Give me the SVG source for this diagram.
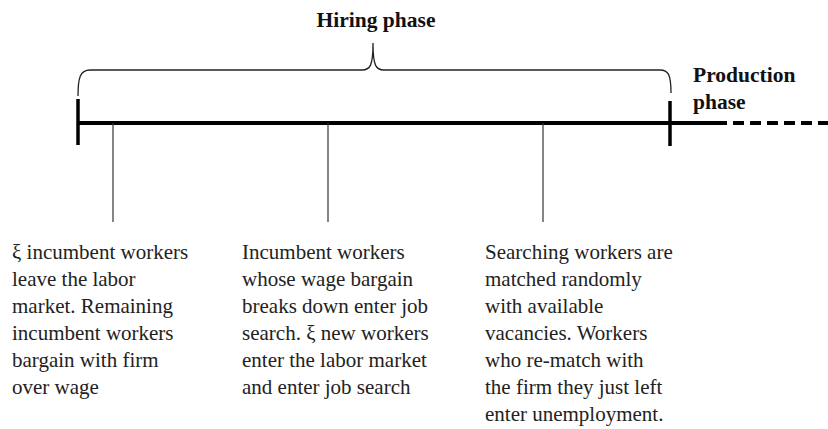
<svg xmlns="http://www.w3.org/2000/svg" width="828" height="429" viewBox="0 0 828 429">
  <style>
    .axis { stroke: #000; stroke-width: 4; fill: none; }
    .tick { stroke: #000; stroke-width: 3.5; fill: none; }
    .drop { stroke: #333; stroke-width: 1.2; fill: none; }
    .brace { stroke: #222; stroke-width: 1.3; fill: none; }
    .head { font-size: 21.5px; font-weight: bold; fill: #111; }
    .note { font-size: 21px; fill: #222; }
  </style>

  <!-- timeline axis and phase boundaries -->
  <g id="connectors">
    <line class="axis" x1="78" y1="123" x2="716" y2="123"/>
    <line class="axis" x1="716" y1="123" x2="828" y2="123" stroke-dasharray="11 6"/>
    <line class="drop" x1="113" y1="123" x2="113" y2="222"/>
    <line class="drop" x1="328" y1="123" x2="328" y2="222"/>
    <line class="drop" x1="543" y1="123" x2="543" y2="222"/>
    <!-- curly brace spanning the hiring phase -->
    <path class="brace" d="M78,96 C78,78 80,70 90,70 L362,70 C370,70 373,66 373,43 C373,66 376,70 384,70 L660,70 C668,70 671,74 671,93"/>
  </g>

  <g id="tick-start"><line class="tick" x1="78" y1="99" x2="78" y2="145"/></g>
  <g id="tick-end"><line class="tick" x1="670" y1="101" x2="670" y2="146"/></g>

  <g id="hiring-label" font-family="Liberation Serif, serif">
    <text class="head" x="376" y="27" text-anchor="middle">Hiring phase</text>
  </g>

  <g id="production-label" font-family="Liberation Serif, serif">
    <text class="head" x="693" y="82">Production</text>
    <text class="head" x="693" y="109">phase</text>
  </g>

  <g id="step-1" font-family="Liberation Serif, serif">
    <text class="note" x="12" y="259">
      <tspan x="12" y="259">ξ incumbent workers</tspan>
      <tspan x="12" y="286">leave the labor</tspan>
      <tspan x="12" y="313">market. Remaining</tspan>
      <tspan x="12" y="340">incumbent workers</tspan>
      <tspan x="12" y="367">bargain with firm</tspan>
      <tspan x="12" y="394">over wage</tspan>
    </text>
  </g>

  <g id="step-2" font-family="Liberation Serif, serif">
    <text class="note" x="242" y="259">
      <tspan x="242" y="259">Incumbent workers</tspan>
      <tspan x="242" y="286">whose wage bargain</tspan>
      <tspan x="242" y="313">breaks down enter job</tspan>
      <tspan x="242" y="340">search. ξ new workers</tspan>
      <tspan x="242" y="367">enter the labor market</tspan>
      <tspan x="242" y="394">and enter job search</tspan>
    </text>
  </g>

  <g id="step-3" font-family="Liberation Serif, serif">
    <text class="note" x="485" y="259">
      <tspan x="485" y="259">Searching workers are</tspan>
      <tspan x="485" y="286">matched randomly</tspan>
      <tspan x="485" y="313">with available</tspan>
      <tspan x="485" y="340">vacancies. Workers</tspan>
      <tspan x="485" y="367">who re-match with</tspan>
      <tspan x="485" y="394">the firm they just left</tspan>
      <tspan x="485" y="421">enter unemployment.</tspan>
    </text>
  </g>
</svg>
